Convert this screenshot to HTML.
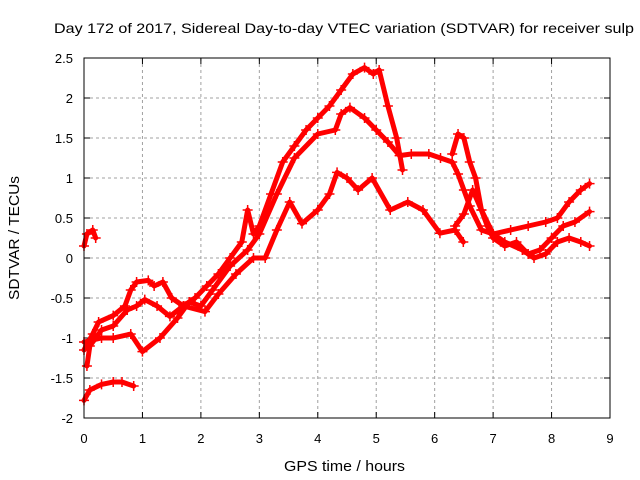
<!DOCTYPE html>
<html><head><meta charset="utf-8"><style>
body{margin:0;background:#fff}
svg{display:block;font-family:"Liberation Sans",sans-serif}
</style></head><body>
<svg id="chart" width="640" height="480">
<text x="54" y="33" font-size="14" textLength="580" lengthAdjust="spacingAndGlyphs">Day 172 of 2017, Sidereal Day-to-day VTEC variation (SDTVAR) for receiver sulp</text>
<text x="284" y="471" font-size="15" textLength="121" lengthAdjust="spacingAndGlyphs">GPS time / hours</text>
<text transform="translate(19,238) rotate(-90)" font-size="15" text-anchor="middle" textLength="124" lengthAdjust="spacingAndGlyphs">SDTVAR / TECUs</text>
<g id="grid"></g><g id="ticks"></g><g id="series"></g>
<rect x="84" y="58" width="526" height="360" fill="none" stroke="#000" stroke-width="1"/>
</svg>
<script>
const xTicks=[0,1,2,3,4,5,6,7,8,9];
const yTicks=[-2,-1.5,-1,-0.5,0,0.5,1,1.5,2,2.5];
const yTickLabels=["-2","-1.5","-1","-0.5","0","0.5","1","1.5","2","2.5"];
const seriesA=[[0,-1.15],[0.15,-0.95],[0.25,-0.8],[0.5,-0.72],[0.7,-0.6],[0.8,-0.4],[0.9,-0.3],[1.1,-0.28],[1.2,-0.35],[1.35,-0.3],[1.5,-0.5],[1.7,-0.6],[1.9,-0.5],[2.1,-0.35],[2.3,-0.2],[2.5,0],[2.7,0.2],[2.8,0.6],[2.9,0.3],[3.0,0.4],[3.2,0.8],[3.4,1.2],[3.6,1.4],[3.8,1.6],[4.0,1.75],[4.2,1.9],[4.4,2.1],[4.6,2.3],[4.8,2.38],[4.95,2.3],[5.05,2.35],[5.2,1.9],[5.35,1.5],[5.45,1.1]];
const seriesB=[[0,-1.05],[0.3,-1.0],[0.5,-1.0],[0.8,-0.95],[1.0,-1.17],[1.3,-1.0],[1.6,-0.75],[1.8,-0.55],[2.0,-0.6],[2.2,-0.4],[2.5,-0.1],[2.8,0.1],[3.0,0.3],[3.3,0.8],[3.6,1.25],[4.0,1.55],[4.3,1.6],[4.4,1.8],[4.55,1.88],[4.8,1.75],[5.0,1.6],[5.2,1.45],[5.4,1.28],[5.6,1.3],[5.9,1.3],[6.1,1.25],[6.3,1.2],[6.4,1.05],[6.5,0.85],[6.6,0.65],[6.8,0.35],[7.0,0.3],[7.3,0.35],[7.6,0.4],[7.9,0.45],[8.1,0.5],[8.3,0.7],[8.5,0.85],[8.65,0.93]];
const seriesC=[[0.05,-1.35],[0.1,-1.1],[0.3,-0.9],[0.5,-0.85],[0.74,-0.65],[0.9,-0.6],[1.04,-0.52],[1.25,-0.6],[1.47,-0.73],[1.7,-0.6],[2.07,-0.67],[2.3,-0.45],[2.6,-0.2],[2.9,0.0],[3.1,0.0],[3.3,0.35],[3.52,0.7],[3.73,0.43],[4.0,0.6],[4.2,0.8],[4.33,1.07],[4.5,1.0],[4.69,0.85],[4.93,1.0],[5.24,0.6],[5.54,0.7],[5.8,0.6],[6.09,0.31],[6.35,0.35],[6.49,0.2]];
const seriesD=[[6.35,0.4],[6.5,0.55],[6.65,0.85],[6.8,0.6],[7.0,0.3],[7.2,0.2],[7.5,0.1],[7.7,0.0],[7.9,0.05],[8.1,0.2],[8.3,0.25],[8.5,0.2],[8.65,0.15]];
const seriesE=[[6.3,1.3],[6.4,1.55],[6.5,1.5],[6.6,1.2],[6.7,1.0],[6.8,0.6],[6.9,0.4],[7.0,0.25],[7.2,0.15],[7.4,0.2],[7.6,0.05],[7.8,0.1],[8.0,0.25],[8.2,0.4],[8.4,0.45],[8.65,0.58]];
const seriesF=[[0,0.15],[0.05,0.3],[0.15,0.35],[0.2,0.25]];
const seriesG=[[0,-1.78],[0.1,-1.65],[0.3,-1.58],[0.5,-1.55],[0.65,-1.55],[0.85,-1.6]];
const allSeries=[["series-a",seriesA],["series-b",seriesB],["series-c",seriesC],["series-d",seriesD],["series-e",seriesE],["series-f",seriesF],["series-g",seriesG]];
const NS="http://www.w3.org/2000/svg";
const X=h=>84+h*(526/9), Y=v=>258-v*80;
const grid=document.getElementById('grid'),ticks=document.getElementById('ticks'),ser=document.getElementById('series');
function mk(tag,attrs,parent){const e=document.createElementNS(NS,tag);for(const k in attrs)e.setAttribute(k,attrs[k]);parent.appendChild(e);return e;}
xTicks.forEach(t=>{const x=X(t);
 if(t>0&&t<9){const g=mk('line',{x1:x,x2:x,y1:58,y2:418,stroke:'#a0a0a0','stroke-dasharray':'3,3'},grid);
 
 }
 mk('line',{x1:x,x2:x,y1:418,y2:412,stroke:'#000'},ticks);mk('line',{x1:x,x2:x,y1:58,y2:64,stroke:'#000'},ticks);
 const l=mk('text',{x:x,y:443,'font-size':13,'text-anchor':'middle'},ticks);l.textContent=t;
 
 });
yTicks.forEach((t,i)=>{const y=Y(t);
 if(t>-2&&t<2.5){const g=mk('line',{x1:84,x2:610,y1:y,y2:y,stroke:'#a0a0a0','stroke-dasharray':'3,3'},grid);
 
 }
 mk('line',{x1:84,x2:90,y1:y,y2:y,stroke:'#000'},ticks);mk('line',{x1:610,x2:604,y1:y,y2:y,stroke:'#000'},ticks);
 const l=mk('text',{x:73,y:y+5,'font-size':13,'text-anchor':'end'},ticks);l.textContent=yTickLabels[i];
 
 });
allSeries.forEach(([name,d])=>{
 const p=mk('polyline',{points:d.map(q=>X(q[0])+','+Y(q[1])).join(' '),fill:'none',stroke:'#f00','stroke-width':5,'stroke-linejoin':'round','stroke-linecap':'round'},ser);
 
 
 d.forEach(q=>{const x=X(q[0]),y=Y(q[1]);
  const m=mk('path',{d:`M${x-5},${y}h10M${x},${y-5}v10`,stroke:'#f00','stroke-width':1.5},ser);
  
  });
});
</script>
</body></html>
